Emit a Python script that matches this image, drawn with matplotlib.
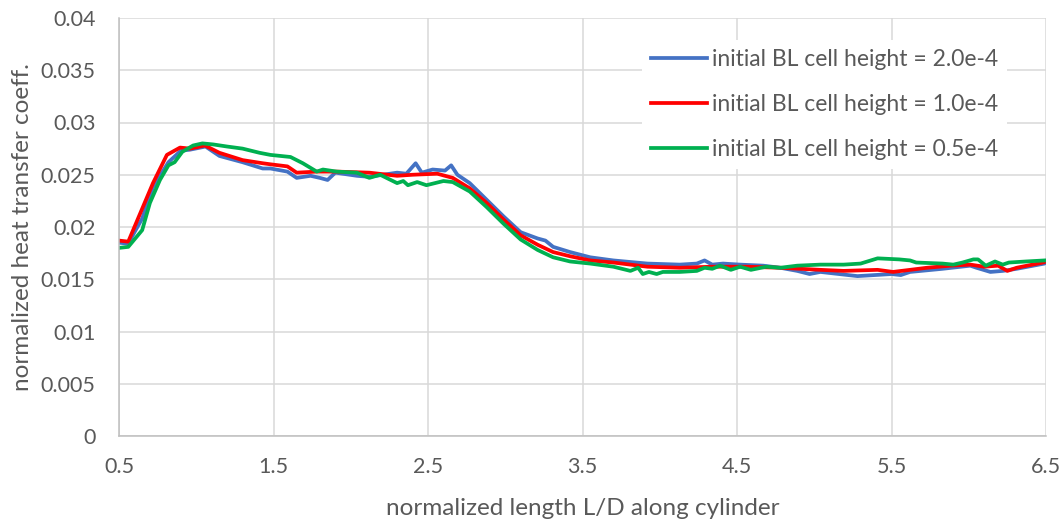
import matplotlib
matplotlib.use("Agg")
import matplotlib.pyplot as plt
from matplotlib.ticker import MultipleLocator, FuncFormatter

# Heat transfer coefficient along the cylinder for three boundary-layer meshes
blue_x = [0.5, 0.56, 0.60, 0.65, 0.72, 0.82, 0.90, 0.96, 1.06, 1.15,
          1.30, 1.43, 1.48, 1.59, 1.65, 1.74, 1.80, 1.85, 1.90, 2.04,
          2.12, 2.30, 2.36, 2.42, 2.46, 2.53, 2.61, 2.65, 2.69, 2.77,
          2.88, 2.99, 3.10, 3.21, 3.26, 3.31, 3.42, 3.55, 3.70, 3.92,
          4.13, 4.24, 4.29, 4.34, 4.41, 4.52, 4.67, 4.78, 4.89, 4.97,
          5.04, 5.28, 5.50, 5.56, 5.62, 5.83, 6.01, 6.05, 6.14, 6.22,
          6.31, 6.49, 6.5]
blue_y = [0.0185, 0.0184, 0.0195, 0.0208, 0.0238, 0.0262, 0.0273, 0.0274, 0.0277, 0.0268,
          0.0262, 0.0256, 0.0256, 0.0253, 0.0247, 0.0249, 0.0247, 0.0245, 0.0252, 0.0249,
          0.0248, 0.0252, 0.0251, 0.0261, 0.0252, 0.0255, 0.0254, 0.0259, 0.0250, 0.0242,
          0.0226, 0.0210, 0.0195, 0.0189, 0.0187, 0.0181, 0.0176, 0.0171, 0.0168, 0.0165,
          0.0164, 0.0165, 0.0168, 0.0164, 0.0165, 0.0164, 0.0163, 0.0161, 0.0158, 0.0155,
          0.0157, 0.0153, 0.0155, 0.0154, 0.0157, 0.0160, 0.0163, 0.0161, 0.0157, 0.0158,
          0.0160, 0.0165, 0.0166]

red_x = [0.5, 0.56, 0.60, 0.72, 0.81, 0.895, 0.96, 1.056, 1.15, 1.30,
         1.43, 1.48, 1.59, 1.65, 1.78, 1.91, 2.12, 2.30, 2.40, 2.56,
         2.66, 2.77, 2.88, 2.99, 3.10, 3.21, 3.31, 3.42, 3.55, 3.70,
         3.92, 4.13, 4.34, 4.56, 4.78, 5.04, 5.19, 5.41, 5.51, 5.62,
         5.73, 5.88, 6.01, 6.10, 6.19, 6.25, 6.31, 6.48, 6.5]
red_y = [0.0187, 0.0186, 0.0200, 0.0242, 0.0269, 0.0276, 0.0275, 0.0278, 0.0271, 0.0264,
         0.0261, 0.0260, 0.0258, 0.0252, 0.0253, 0.0253, 0.0252, 0.0249, 0.0250, 0.0251,
         0.0247, 0.0237, 0.0223, 0.0207, 0.0192, 0.0183, 0.0176, 0.0172, 0.0168, 0.0166,
         0.0162, 0.0161, 0.0162, 0.0162, 0.0161, 0.0159, 0.0158, 0.0159, 0.0157, 0.0159,
         0.0161, 0.0163, 0.0164, 0.0162, 0.0163, 0.0158, 0.0161, 0.0166, 0.0167]

green_x = [0.5, 0.56, 0.65, 0.70, 0.765, 0.82, 0.86, 0.91, 0.98, 1.04,
           1.11, 1.20, 1.30, 1.41, 1.48, 1.61, 1.69, 1.78, 1.82, 1.91,
           2.04, 2.12, 2.19, 2.30, 2.34, 2.37, 2.43, 2.49, 2.60, 2.66,
           2.77, 2.88, 2.99, 3.10, 3.21, 3.31, 3.42, 3.55, 3.70, 3.81,
           3.86, 3.89, 3.93, 3.98, 4.02, 4.13, 4.24, 4.29, 4.34, 4.39,
           4.46, 4.52, 4.59, 4.69, 4.78, 4.89, 5.04, 5.19, 5.30, 5.41,
           5.55, 5.62, 5.66, 5.83, 5.90, 5.96, 6.03, 6.06, 6.11, 6.17,
           6.22, 6.26, 6.37, 6.49]
green_y = [0.0180, 0.0181, 0.0197, 0.0223, 0.0245, 0.0259, 0.0262, 0.0272, 0.0278, 0.0280,
           0.0279, 0.0277, 0.0275, 0.0271, 0.0269, 0.0267, 0.0261, 0.0253, 0.0255, 0.0253,
           0.0252, 0.0247, 0.0250, 0.0242, 0.0244, 0.0240, 0.0243, 0.0240, 0.0244, 0.0243,
           0.0234, 0.0219, 0.0203, 0.0188, 0.0178, 0.0171, 0.0167, 0.0165, 0.0162, 0.0158,
           0.0161, 0.0155, 0.0157, 0.0155, 0.0157, 0.0157, 0.0158, 0.0161, 0.0160, 0.0163,
           0.0159, 0.0162, 0.0159, 0.0162, 0.0161, 0.0163, 0.0164, 0.0164, 0.0165, 0.0170,
           0.0169, 0.0168, 0.0166, 0.0165, 0.0164, 0.0166, 0.0169, 0.0169, 0.0163, 0.0167,
           0.0164, 0.0166, 0.0167, 0.0168]

series_labels = ["initial BL cell height = 2.0e-4",
                 "initial BL cell height = 1.0e-4",
                 "initial BL cell height = 0.5e-4"]
series_colors = ["#4472C4", "#FF0000", "#00B050"]

x_ticks = [0.5, 1.5, 2.5, 3.5, 4.5, 5.5, 6.5]
x_label = "normalized length L/D along cylinder"
y_label = "normalized heat transfer coeff."

text_color = "#595959"
plt.rcParams["font.family"] = ["Lato", "DejaVu Sans"]

fig = plt.figure(figsize=(10.63, 5.26), dpi=100)
ax = fig.add_axes([119 / 1063, 90 / 526, (1046 - 119) / 1063, (436 - 18) / 526])

for xs, ys, lab, col in zip([blue_x, red_x, green_x], [blue_y, red_y, green_y],
                            series_labels, series_colors):
    ax.plot(xs, ys, color=col, lw=2.7, label=lab, solid_joinstyle="round")

ax.set_xlim(0.5, 6.5)
ax.set_ylim(0, 0.04)
ax.set_xticks(x_ticks)
ax.set_xticklabels([f"{v:g}" for v in x_ticks])
ax.yaxis.set_major_locator(MultipleLocator(0.005))
ax.yaxis.set_major_formatter(FuncFormatter(lambda v, p: f"{v:.3f}".rstrip("0").rstrip(".") if v else "0"))

ax.grid(True, color="#d9d9d9", lw=1.1)
ax.set_axisbelow(True)
for side in ["top", "right"]:
    ax.spines[side].set_visible(False)
for side in ["left", "bottom"]:
    ax.spines[side].set_color("#bfbfbf")
    ax.spines[side].set_linewidth(1.1)

ax.tick_params(axis="both", length=0, labelsize=15.5, labelcolor=text_color)
ax.tick_params(axis="x", pad=15)
ax.tick_params(axis="y", pad=17)

ax.set_xlabel(x_label, fontsize=17.5, color=text_color, labelpad=15)
ax.set_ylabel(y_label, fontsize=17.5, color=text_color, labelpad=5)

leg = ax.legend(loc="upper left", bbox_to_anchor=(642 / 1063, 1 - 40 / 526),
                bbox_transform=fig.transFigure, frameon=True, fancybox=False,
                facecolor="white", edgecolor="none", framealpha=1,
                fontsize=16.5, handlelength=2.45, handletextpad=0.2,
                labelspacing=1.05, borderpad=0.4, borderaxespad=0)
for t in leg.get_texts():
    t.set_color(text_color)

fig.savefig("out.png", dpi=100)
